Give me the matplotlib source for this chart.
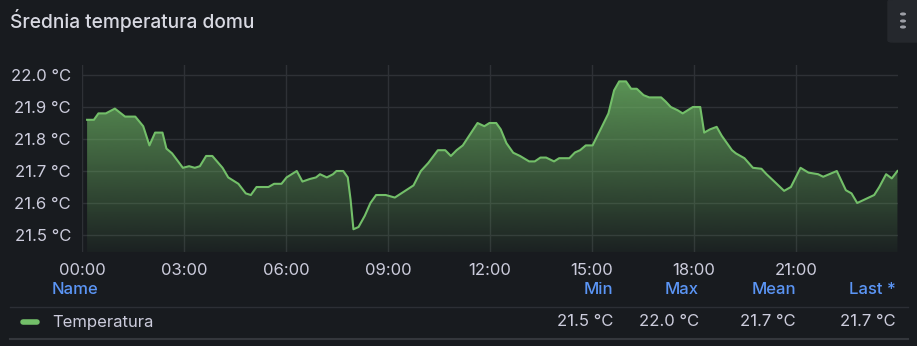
import numpy as np
import matplotlib
matplotlib.use("Agg")
import matplotlib.pyplot as plt
from matplotlib.patches import FancyBboxPatch
from matplotlib.lines import Line2D

# minutes since midnight
minutes = [9, 21, 29, 42, 58, 76, 94, 108, 119, 129, 142, 149, 159, 178, 189, 199, 208,
           219, 230, 248, 258, 276, 289, 298, 308, 329, 339, 352, 361, 379, 389, 402,
           413, 420, 432, 443, 449, 461, 469, 474, 479, 488, 499, 509, 519, 536, 552,
           572, 585, 598, 611, 628, 641, 651, 661, 672, 685, 698, 710, 719, 731, 739,
           749, 761, 773, 789, 799, 809, 819, 833, 842, 860, 870, 879, 889, 901, 914,
           929, 939, 948, 960, 969, 979, 991, 1001, 1022, 1030, 1039, 1051, 1060, 1078,
           1091, 1098, 1108, 1120, 1129, 1147, 1154, 1169, 1184, 1199, 1208, 1220, 1239,
           1251, 1268, 1282, 1299, 1308, 1332, 1348, 1358, 1368, 1398, 1407, 1419, 1429, 1439]
temps = [21.86, 21.86, 21.88, 21.88, 21.895, 21.87, 21.87, 21.84, 21.78, 21.82, 21.82,
         21.77, 21.755, 21.71, 21.715, 21.71, 21.715, 21.747, 21.747, 21.71, 21.68, 21.66,
         21.63, 21.625, 21.65, 21.65, 21.66, 21.66, 21.68, 21.70, 21.667, 21.675, 21.68,
         21.69, 21.68, 21.69, 21.70, 21.70, 21.68, 21.61, 21.518, 21.525, 21.56, 21.60,
         21.625, 21.625, 21.617, 21.64, 21.655, 21.70, 21.725, 21.765, 21.765, 21.747,
         21.765, 21.78, 21.815, 21.85, 21.84, 21.85, 21.85, 21.83, 21.787, 21.757, 21.747,
         21.73, 21.73, 21.742, 21.742, 21.73, 21.74, 21.74, 21.758, 21.765, 21.78, 21.78,
         21.826, 21.88, 21.952, 21.98, 21.98, 21.957, 21.957, 21.937, 21.93, 21.93, 21.917,
         21.90, 21.89, 21.88, 21.90, 21.90, 21.82, 21.83, 21.838, 21.81, 21.765, 21.755,
         21.74, 21.71, 21.707, 21.69, 21.67, 21.638, 21.65, 21.71, 21.695, 21.69, 21.682,
         21.70, 21.64, 21.63, 21.60, 21.625, 21.65, 21.69, 21.677, 21.70]

x_ticks = [0, 180, 360, 540, 720, 900, 1080, 1260]
x_labels = ["00:00", "03:00", "06:00", "09:00", "12:00", "15:00", "18:00", "21:00"]
y_ticks = [21.5, 21.6, 21.7, 21.8, 21.9, 22.0]
y_labels = [f"{v:.1f} °C" for v in y_ticks]

series_name = "Temperatura"
stat_names = ["Min", "Max", "Mean", "Last *"]
stat_values = ["21.5 °C", "22.0 °C", "21.7 °C", "21.7 °C"]

BG = "#181b1f"
TXT = "#ccccdc"
GREEN = "#73bf69"
BLUE = "#5b95f5"
GRID = "#2e3136"

plt.rcParams["font.family"] = ["Inter", "DejaVu Sans"]

W, H = 917, 346
fig = plt.figure(figsize=(W / 100, H / 100), dpi=100, facecolor=BG)


def fx(px):
    return px / W


def fy(py):
    return 1 - py / H


ax = fig.add_axes([fx(82), fy(252), fx(898) - fx(82), fy(65) - fy(252)])
ax.set_facecolor(BG)
ymin, ymax = 21.4469, 22.03125
ax.set_xlim(0, 1440)
ax.set_ylim(ymin, ymax)

# gradient fill under the line, fading downwards
poly = ax.fill_between(minutes, temps, ymin, color="none", lw=0)
grad = np.linspace(0, 1, 256).reshape(-1, 1)
rgba = np.zeros((256, 1, 4))
rgba[..., 0] = 0x73 / 255
rgba[..., 1] = 0xbf / 255
rgba[..., 2] = 0x69 / 255
rgba[..., 3] = 0.04 + grad * 0.72
img = ax.imshow(rgba, aspect="auto", origin="lower",
                extent=[0, 1440, ymin, 22.0], zorder=1)
img.set_clip_path(poly.get_paths()[0], transform=ax.transData)
ax.plot(minutes, temps, color=GREEN, lw=1.5, zorder=3, solid_joinstyle="round")

ax.set_xticks(x_ticks)
ax.set_xticklabels(x_labels)
ax.set_yticks(y_ticks)
ax.set_yticklabels(y_labels)
ax.grid(True, color=GRID, lw=1)
ax.set_axisbelow(True)
ax.tick_params(length=0, colors=TXT, labelsize=12)
ax.tick_params(axis="y", pad=8)
ax.tick_params(axis="x", pad=8)
for s in ax.spines.values():
    s.set_visible(False)

# title
fig.text(fx(10), fy(20), "Średnia temperatura domu", color="#d8d9e2", fontsize=13.8,
         fontweight="medium", va="center", ha="left")

# menu button
fig.patches.append(FancyBboxPatch((fx(888), fy(42)), fx(40), fy(0) - fy(42),
                                  boxstyle="round,pad=0,rounding_size=0.005",
                                  transform=fig.transFigure, color="#25282d", zorder=0))
for dy in (14, 21, 27):
    fig.patches.append(plt.Circle((fx(903), fy(dy)), 0.0025, transform=fig.transFigure,
                                  color="#9fa1a8"))

# legend table
fig.text(fx(52), fy(289), "Name", color=BLUE, fontsize=12, fontweight="medium",
         va="center", ha="left")
col_right = [613, 699, 796, 896]
for name, val, xr in zip(stat_names, stat_values, col_right):
    fig.text(fx(xr), fy(289), name, color=BLUE, fontsize=12, fontweight="medium",
             va="center", ha="right")
    fig.text(fx(xr), fy(322), val, color=TXT, fontsize=12, va="center", ha="right")
fig.text(fx(52), fy(322), series_name, color=TXT, fontsize=12, va="center", ha="left")
fig.lines.append(Line2D([fx(23), fx(37)], [fy(322), fy(322)], transform=fig.transFigure,
                        color=GREEN, lw=4, solid_capstyle="round"))
fig.lines.append(Line2D([fx(10), fx(908)], [fy(306.5), fy(306.5)], transform=fig.transFigure,
                        color="#2c2f35", lw=1))
fig.lines.append(Line2D([fx(10), fx(908)], [fy(338.5), fy(338.5)], transform=fig.transFigure,
                        color="#34373c", lw=1.5))

fig.savefig("out.png", dpi=100, facecolor=BG)
